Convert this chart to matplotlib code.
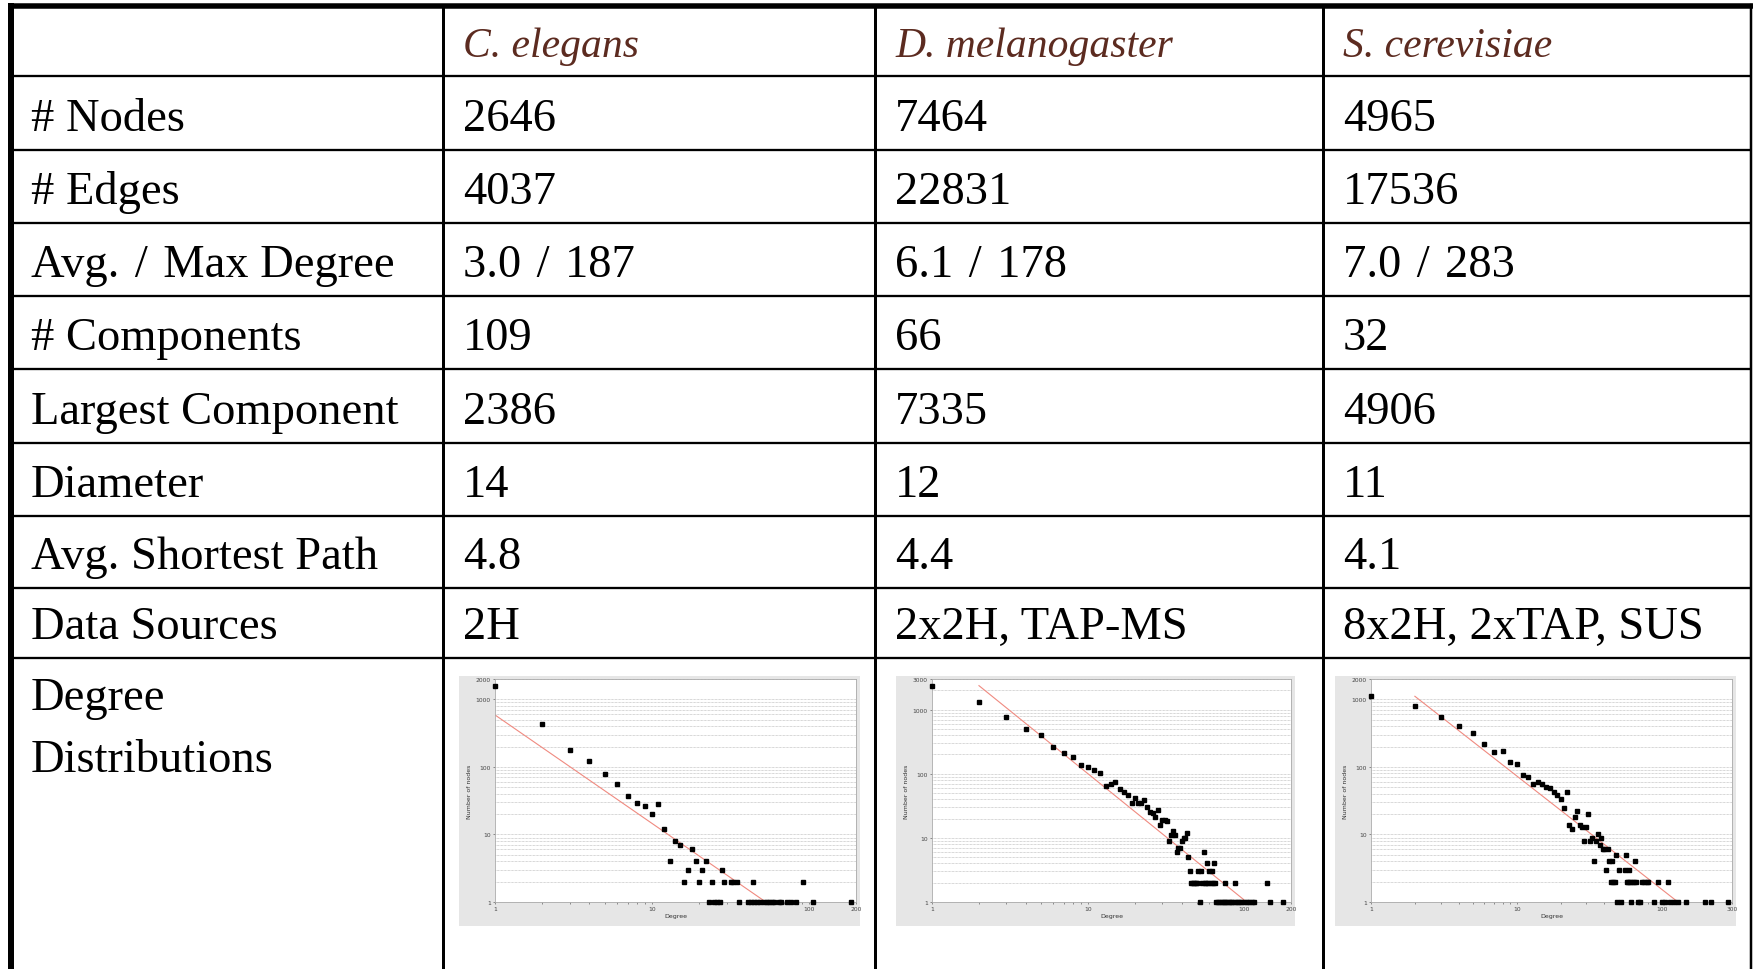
import numpy as np
import matplotlib
matplotlib.use('Agg')
import matplotlib.pyplot as plt
from matplotlib.patches import Rectangle
from matplotlib.ticker import LogLocator, NullFormatter, FixedLocator, FixedFormatter

SP = '\u2004'  # slightly wider space around the slashes

# table content
species = ['C. elegans', 'D. melanogaster', 'S. cerevisiae']
row_labels = ['# Nodes', '# Edges', 'Avg.' + SP + '/' + SP + 'Max Degree', '# Components',
              'Largest Component', 'Diameter', 'Avg. Shortest Path', 'Data Sources']
vals_ce = ['2646', '4037', '3.0' + SP + '/' + SP + '187', '109', '2386', '14', '4.8', '2H']
vals_dm = ['7464', '22831', '6.1' + SP + '/' + SP + '178', '66', '7335', '12', '4.4', '2x2H, TAP-MS']
vals_sc = ['4965', '17536', '7.0' + SP + '/' + SP + '283', '32', '4906', '11', '4.1', '8x2H, 2xTAP, SUS']

# degree distributions
deg_ce = [1, 2, 3, 4, 5, 6, 7, 8, 9, 10, 11, 12, 13, 14, 15, 16, 17, 18, 19, 20,
          21, 22, 23, 24, 25, 26, 27, 28, 29, 32, 33, 35, 36, 41, 43, 44, 45, 47, 49,
          52, 54, 56, 58, 60, 65, 67, 73, 77, 83, 92, 107, 187]
cnt_ce = [1550, 432, 178, 121, 78, 56, 37, 29, 26, 20, 28, 12, 4, 8, 7, 2, 3, 6, 4, 2,
          3, 4, 1, 2, 1, 1, 1, 3, 2, 2, 2, 2, 1, 1, 1, 2, 1, 1, 1,
          1, 1, 1, 1, 1, 1, 1, 1, 1, 1, 2, 1, 1]

deg_dm = [1, 2, 3, 4, 5, 6, 7, 8, 9, 10, 11, 12, 13, 14, 15, 16, 17, 18, 19, 20,
          21, 22, 23, 24, 25, 26, 27, 28, 29, 30, 31, 32, 33, 34, 35, 36, 37, 38, 39, 40,
          41, 42, 43, 44, 45, 46, 47, 48, 49, 50, 51, 52, 53, 54, 55, 56, 57, 58, 59, 60,
          61, 62, 63, 64, 65, 66, 68, 70, 72, 74, 75, 76, 78, 80, 82, 84, 87, 88, 90, 93,
          96, 100, 104, 108, 112, 116, 140, 147, 178]
cnt_dm = [2361, 1331, 777, 499, 408, 265, 211, 185, 139, 129, 115, 101, 65, 70, 73, 58, 52, 47, 35, 42,
          35, 35, 39, 30, 25, 24, 21, 27, 16, 19, 19, 18, 9, 11, 13, 11, 6, 7, 7, 9,
          10, 10, 12, 5, 3, 2, 2, 2, 2, 2, 3, 1, 3, 2, 6, 2, 2, 4, 2, 3,
          2, 3, 2, 4, 2, 1, 1, 1, 1, 1, 2, 1, 1, 1, 1, 1, 2, 1, 1, 1,
          1, 1, 1, 1, 1, 1, 2, 1, 1]

deg_sc = [1, 2, 3, 4, 5, 6, 7, 8, 9, 10, 11, 12, 13, 14, 15, 16, 17, 18, 19, 20,
          21, 22, 23, 24, 25, 26, 27, 28, 29, 30, 31, 32, 33, 34, 35, 36, 37, 38, 39, 40,
          41, 42, 43, 44, 45, 46, 47, 48, 49, 50, 52, 55, 56, 57, 58, 59, 60, 61, 62, 64,
          65, 66, 68, 70, 72, 75, 78, 80, 87, 93, 100, 104, 109, 112, 120, 128, 146, 195, 215, 283]
cnt_sc = [1107, 788, 542, 399, 315, 219, 168, 174, 117, 112, 76, 70, 55, 59, 55, 51, 49, 43, 39, 34,
          25, 43, 14, 12, 18, 22, 14, 13, 8, 13, 20, 8, 9, 4, 8, 10, 7, 9, 6, 6,
          3, 6, 4, 2, 4, 2, 2, 5, 1, 3, 1, 3, 5, 2, 2, 3, 2, 1, 2, 2,
          4, 2, 1, 1, 2, 2, 2, 2, 1, 2, 1, 1, 2, 1, 1, 1, 1, 1, 1, 1]

# power-law fits (count = c * degree^-k), start degree
fit_c = [587, 9230, 3574]
fit_k = [1.604, 1.966, 1.687]
fit_x0 = [1, 2, 2]
x_max = [200, 200, 300]
y_max = [2000, 3000, 2000]

W, H = 1753, 970
fig = plt.figure(figsize=(W / 100, H / 100), dpi=100)
tab = fig.add_axes([0, 0, 1, 1])
tab.set_xlim(0, W)
tab.set_ylim(H, 0)
tab.axis('off')

# layout in pixels
col_edges = [11, 443, 875, 1323, 1751]
row_edges = [6, 77, 151, 224, 297, 370, 444, 517, 589, 659]
px = 0.72  # points per pixel

# grid lines
for y in row_edges[1:]:
    tab.plot([11, 1751], [y, y], color='black', lw=2.3 * px, solid_capstyle='butt')
for x in col_edges[1:-1]:
    tab.plot([x, x], [6, H], color='black', lw=3 * px, solid_capstyle='butt')
tab.plot([1751, 1751], [6, H], color='black', lw=2.5 * px)
tab.plot([8, 1753], [6.5, 6.5], color='black', lw=5.5 * px, solid_capstyle='butt')
tab.plot([11, 11], [4, H], color='black', lw=6 * px, solid_capstyle='butt')

serif = ['Liberation Serif', 'DejaVu Serif']
body_fs = 33.5
head_fs = 30

for j, name in enumerate(species):
    tab.text(col_edges[j + 1] + 20, row_edges[1] - 20, name, fontsize=head_fs,
             family=serif, style='italic', color='#5c2b20', va='baseline')

all_vals = [vals_ce, vals_dm, vals_sc]
for i, lab in enumerate(row_labels):
    yb = row_edges[i + 2] - 20
    tab.text(31, yb, lab, fontsize=body_fs, family=serif, va='baseline')
    for j in range(3):
        tab.text(col_edges[j + 1] + 20, yb, all_vals[j][i], fontsize=body_fs,
                 family=serif, va='baseline')

tab.text(31, 710, 'Degree', fontsize=body_fs, family=serif, va='baseline')
tab.text(31, 772, 'Distributions', fontsize=body_fs, family=serif, va='baseline')

# small degree distribution plots
degs = [deg_ce, deg_dm, deg_sc]
cnts = [cnt_ce, cnt_dm, cnt_sc]
ax_left = [495, 932, 1371]
ax_right = [856, 1291, 1732]
ax_top, ax_bot = 680, 903

for j in range(3):
    l, r = ax_left[j], ax_right[j]
    tab.add_patch(Rectangle((l - 36, ax_top - 3), r - l + 40, 927 - ax_top + 3,
                            facecolor='#e6e6e6', edgecolor='none', zorder=0))
    ax = fig.add_axes([l / W, 1 - ax_bot / H, (r - l) / W, (ax_bot - ax_top) / H])
    ax.set_facecolor('white')
    ax.set_xscale('log')
    ax.set_yscale('log')
    ax.set_xlim(1, x_max[j])
    ax.set_ylim(1, y_max[j])

    xf = np.geomspace(fit_x0[j], fit_c[j] ** (1 / fit_k[j]), 50)
    ax.plot(xf, fit_c[j] * xf ** (-fit_k[j]), color='#f08a80', lw=0.8, zorder=2)
    ax.plot(degs[j], cnts[j], 's', color='black', ms=2.8, zorder=3, clip_on=False)

    yt = [1, 10, 100, 1000, y_max[j]]
    ax.yaxis.set_major_locator(FixedLocator(yt))
    ax.yaxis.set_major_formatter(FixedFormatter([str(v) for v in yt]))
    ax.yaxis.set_minor_locator(LogLocator(base=10, subs=np.arange(2, 10)))
    ax.yaxis.set_minor_formatter(NullFormatter())
    xt = [1, 10, 100, x_max[j]]
    ax.xaxis.set_major_locator(FixedLocator(xt))
    ax.xaxis.set_major_formatter(FixedFormatter([str(v) for v in xt]))
    ax.xaxis.set_minor_locator(LogLocator(base=10, subs=np.arange(2, 10)))
    ax.xaxis.set_minor_formatter(NullFormatter())

    ax.grid(True, axis='y', which='both', color='#b0b0b0', lw=0.5, ls=(0, (1, 1)))
    ax.tick_params(which='both', labelsize=4.3, colors='#444444', length=1.5,
                   width=0.4, pad=1.5)
    ax.tick_params(axis='y', which='minor', length=0)
    for s in ax.spines.values():
        s.set_color('#aaaaaa')
        s.set_linewidth(0.6)
    ax.set_xlabel('Degree', fontsize=4.5, color='#333333', labelpad=1.5)
    ax.set_ylabel('Number of nodes', fontsize=4.5, color='#333333', labelpad=3)

fig.savefig('out.png', dpi=100)
